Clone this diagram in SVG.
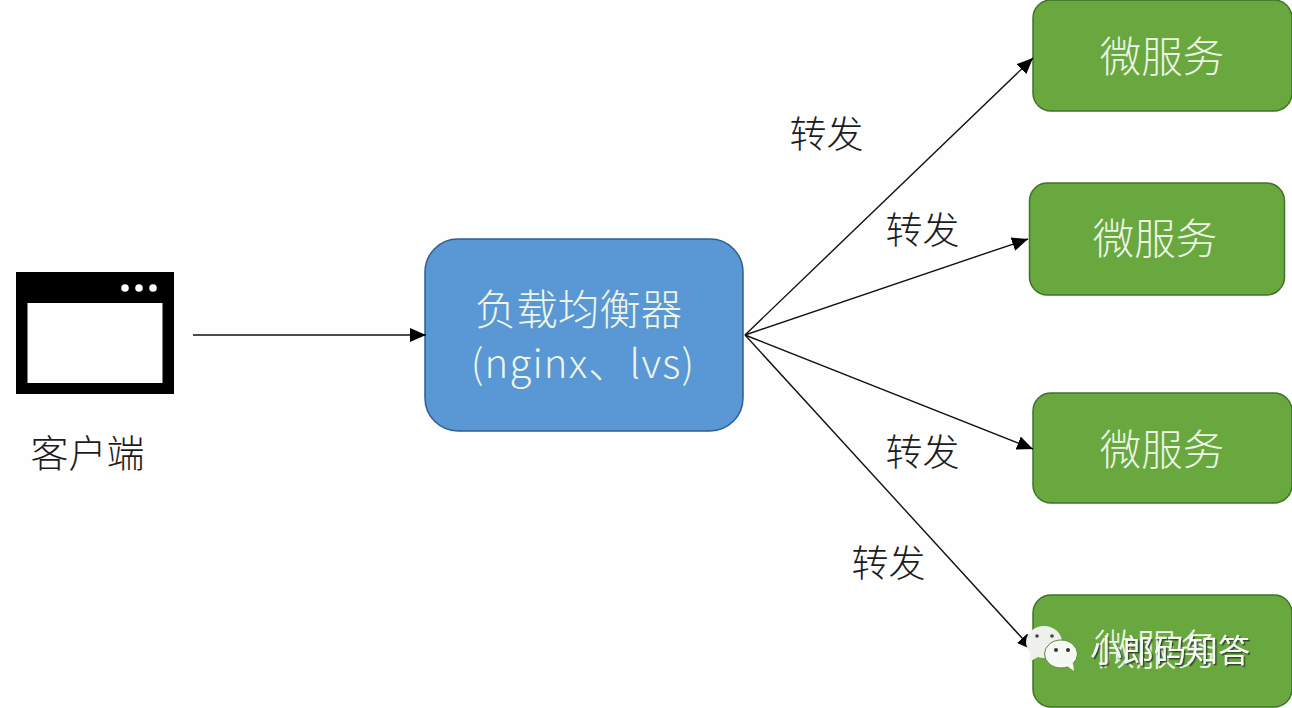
<svg xmlns="http://www.w3.org/2000/svg" width="1292" height="708" viewBox="0 0 1292 708">
<style>
text{font-family:"Noto Sans CJK SC","Noto Sans",sans-serif}
.g{fill:#68a83f;stroke:#3f7328;stroke-width:1.5}
.w{fill:#edf5e6;font-size:41.500px;text-anchor:middle;font-weight:300}
.k{fill:#1c1c1c;font-size:37px;text-anchor:middle;font-weight:300}
.c{fill:none;stroke:#111;stroke-width:1.4;marker-end:url(#a)}
.wm{fill:#f7f9f5;font-size:32px;text-anchor:middle;font-weight:400}
</style>
<defs>
<marker id="a" markerUnits="userSpaceOnUse" markerWidth="17" markerHeight="14" refX="16" refY="7" orient="auto"><path d="M0 0L16 7L0 14z" fill="#000"/></marker>
<filter id="s" x="-10%" y="-20%" width="120%" height="140%"><feDropShadow dx="1.5" dy="1.5" stdDeviation="0.6" flood-color="#2f3a2a" flood-opacity="0.9"/></filter>
</defs>
<rect width="1292" height="708" fill="#fefefe"/>
<g id="client">
<rect x="16" y="272" width="158" height="122" fill="#000"/>
<rect x="27.500" y="303" width="135" height="80" fill="#fefefe"/>
<circle cx="125" cy="288" r="3.800" fill="#fff"/><circle cx="139" cy="288" r="3.800" fill="#fff"/><circle cx="153" cy="288" r="3.800" fill="#fff"/>
<text x="87.500" y="467" class="k" style="font-size:38px">客户端</text>
</g>
<g id="balancer">
<rect x="425" y="239" width="318" height="192" rx="33" fill="#5a97d5" stroke="#2f5f8f" stroke-width="1.500"/>
<text x="578.500" y="325" class="w">负载均衡器</text>
<text x="583" y="378" class="w" style="font-size:40px;letter-spacing:1.200px">(nginx、lvs)</text>
</g>
<g id="svc1"><rect x="1033" y="0" width="259" height="111" rx="18" class="g"/><text x="1162" y="72" class="w">微服务</text></g>
<g id="svc2"><rect x="1029.500" y="183" width="255" height="112" rx="18" class="g"/><text x="1155" y="254" class="w">微服务</text></g>
<g id="svc3"><rect x="1033" y="393" width="259" height="110" rx="18" class="g"/><text x="1162" y="465" class="w">微服务</text></g>
<g id="svc4"><rect x="1033" y="595" width="259" height="112" rx="18" class="g"/><text x="1156" y="665" class="w">微服务</text></g>
<g id="connectors">
<path class="c" d="M193 335H426"/>
<path class="c" d="M745 335L1033 58"/>
<path class="c" d="M745 335L1028 239"/>
<path class="c" d="M745 335L1033 449"/>
<path class="c" d="M745 335L1033 650"/>
</g>
<g id="labels">
<text x="826.500" y="148" class="k">转发</text>
<text x="922.500" y="244" class="k">转发</text>
<text x="922.500" y="466" class="k">转发</text>
<text x="888.500" y="577" class="k">转发</text>
</g>
<g id="watermark">
<ellipse cx="1044" cy="642" rx="18" ry="16" fill="#eef0ec"/>
<path d="M1031 653l-2 9 9-5z" fill="#eef0ec"/>
<circle cx="1037" cy="636" r="1.800" fill="#444"/><circle cx="1052" cy="636" r="1.800" fill="#444"/>
<ellipse cx="1061" cy="654" rx="16.500" ry="14" fill="#f6f8f4" stroke="#59873f" stroke-width="1"/>
<path d="M1067 666l7 5-1-8z" fill="#f6f8f4"/>
<circle cx="1056" cy="650" r="2" fill="#333"/><circle cx="1068" cy="650" r="2" fill="#333"/>
<text x="1170" y="662" class="wm" filter="url(#s)">小郎码知答</text>
</g>
</svg>
